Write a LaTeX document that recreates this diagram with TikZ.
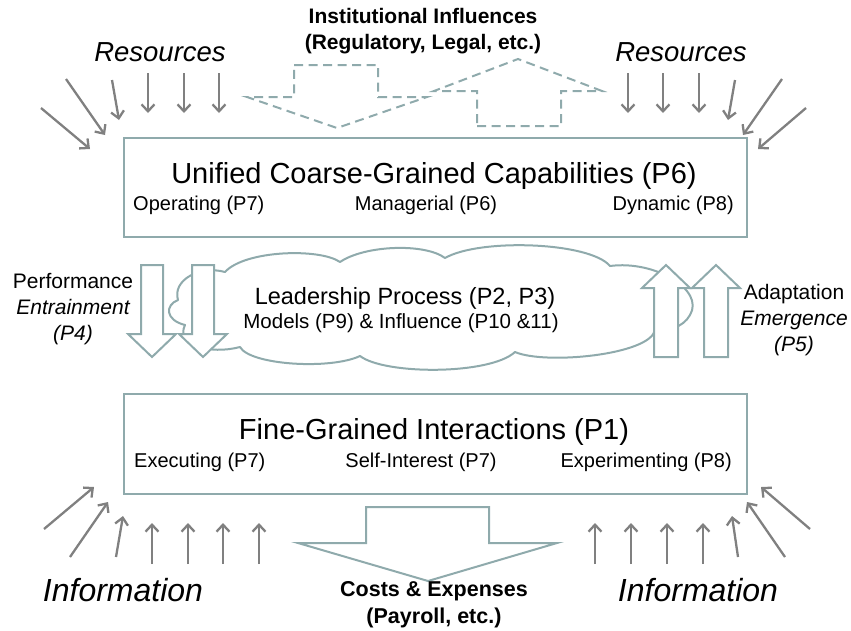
\documentclass[tikz,border=0pt]{standalone}
\usepackage{fontspec}
\setmainfont{Liberation Sans}
\usetikzlibrary{arrows.meta}
\definecolor{tealline}{HTML}{8FAAAC}
\definecolor{arrgray}{HTML}{808080}
\begin{document}
\begin{tikzpicture}[x=1pt,y=-1pt,
  box/.style={draw=tealline,line width=2pt,fill=white,inner sep=0pt},
  res/.style={draw=arrgray,line width=2.3pt,-{Straight Barb[length=7pt,width=13pt]}},
  dsh/.style={draw=tealline,line width=2pt,dash pattern=on 9pt off 5.5pt},
  blk/.style={draw=tealline,line width=2pt,fill=white,line join=miter},
  cloudline/.style={draw=tealline,line width=2pt,fill=white,line join=round},
  ttl/.style={inner sep=0pt,font=\fontsize{29}{34}\selectfont},
  sub/.style={inner sep=0pt,font=\fontsize{20}{24}\selectfont},
  lbl/.style={inner sep=0pt,align=center,font=\fontsize{21}{26}\selectfont},
  bld/.style={inner sep=0pt,align=center,font=\fontsize{21}{26}\selectfont\bfseries},
  bldc/.style={inner sep=0pt,align=center,font=\fontsize{21.5}{27}\selectfont\bfseries},
  big/.style={inner sep=0pt,font=\fontsize{27.5}{30}\selectfont\itshape},
  huge/.style={inner sep=0pt,font=\fontsize{32}{36}\selectfont\itshape}]
\useasboundingbox (0,0) rectangle (851,630);

% top dashed institutional arrows
\draw[dsh] (294,65) -- (378,65) -- (378,97) -- (427,97) -- (337,128) -- (247,97) -- (294,97) -- cycle;
\draw[dsh] (477,126) -- (561,126) -- (561,91) -- (602,91) -- (518,59) -- (434,91) -- (477,91) -- cycle;
\node[bld] (inst) at (423,31) {Institutional Influences\\(Regulatory, Legal, etc.)};

% resources
\node[big] (resL) at (160,52) {Resources};
\node[big] (resR) at (681,52) {Resources};
\foreach \a/\b/\c/\d in {41/108/90/149,66/79/105/135,112/80/119/120,148/73/148/113,184/73/184/113,219/73/219/113,
  628/73/628/113,663/73/663/113,699/73/699/113,735/80/728/120,782/79/743/135,806/108/758/149}
  \draw[res] (\a,\b) -- (\c,\d);

% top box
\node[box,minimum width=623pt,minimum height=99pt,anchor=north west] (top) at (123,137) {};
\node[ttl] (topt) at (434,176) {Unified Coarse-Grained Capabilities (P6)};
\node[sub,anchor=west] (op) at (133,205) {Operating (P7)};
\node[sub] (man) at (426,205) {Managerial (P6)};
\node[sub,anchor=east] (dyn) at (734,205) {Dynamic (P8)};

% cloud
\draw[cloudline] (178,300) .. controls (172,280) and (200,265) .. (225,272)
  .. controls (245,250) and (320,248) .. (340,262)
  .. controls (365,245) and (425,243) .. (445,258)
  .. controls (480,238) and (590,242) .. (610,266)
  .. controls (655,260) and (705,290) .. (690,315)
  .. controls (683,328) and (665,332) .. (655,330)
  .. controls (650,355) and (545,365) .. (515,352)
  .. controls (490,375) and (385,375) .. (360,356)
  .. controls (330,370) and (250,365) .. (240,347)
  .. controls (210,355) and (175,345) .. (185,325)
  .. controls (165,320) and (165,305) .. (178,300) -- cycle;
\coordinate (cloud) at (428,308);
\node[inner sep=0pt,font=\fontsize{23.5}{28}\selectfont] (lead) at (405,298) {Leadership Process (P2, P3)};
\node[inner sep=0pt,font=\fontsize{20.5}{24}\selectfont] (mod) at (401,323) {Models (P9) \& Influence (P10 \&11)};

% block arrows down (left)
\foreach \c in {152,203}
  \draw[blk] ({\c-11},265) -- ({\c+11},265) -- ({\c+11},334) -- ({\c+24},334) -- (\c,357) -- ({\c-24},334) -- ({\c-11},334) -- cycle;
% block arrows up (right)
\foreach \c in {666,716}
  \draw[blk] ({\c-12},357) -- ({\c+12},357) -- ({\c+12},288) -- ({\c+24},288) -- (\c,265) -- ({\c-24},288) -- ({\c-12},288) -- cycle;

\node[lbl] (perf) at (73,309) {Performance\\\itshape Entrainment\\\itshape (P4)};
\node[lbl] (adap) at (794,320) {Adaptation\\\itshape Emergence\\\itshape (P5)};

% bottom box
\node[box,minimum width=623pt,minimum height=100pt,anchor=north west] (bot) at (123,393) {};
\node[ttl] (bott) at (434,432) {Fine-Grained Interactions (P1)};
\node[sub,anchor=west] (exe) at (134,462) {Executing (P7)};
\node[sub] (self) at (421,462) {Self-Interest (P7)};
\node[sub,anchor=east] (exp) at (732,462) {Experimenting (P8)};

% costs arrow
\draw[blk] (366,507) -- (489,507) -- (489,543) -- (557,543) -- (428,581) -- (298,543) -- (366,543) -- cycle;
\node[bldc] (cost) at (434,605) {Costs \& Expenses\\(Payroll, etc.)};

% information
\node[huge] (infL) at (123,590) {Information};
\node[huge] (infR) at (698,590) {Information};
\foreach \a/\b/\c/\d in {44/529/94/487,70/557/108/502,116/557/123/516,152/564/152/523,188/564/188/523,223/564/223/523,259/564/259/523,
  595/564/595/523,631/564/631/523,667/564/667/523,703/564/703/523,738/557/732/516,785/557/747/502,810/529/761/487}
  \draw[res] (\a,\b) -- (\c,\d);
\end{tikzpicture}
\end{document}
